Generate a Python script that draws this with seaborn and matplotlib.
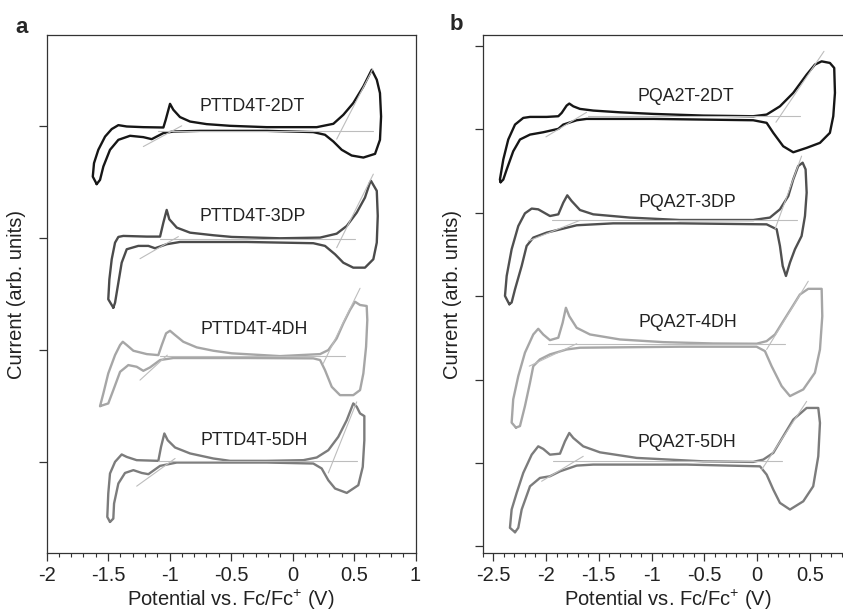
import numpy as np
import matplotlib
matplotlib.use("Agg")
import matplotlib.pyplot as plt
import seaborn as sns
from matplotlib.ticker import MultipleLocator

# ---- data: (potential V, current arb.) per sweep ----
a1 = [(-1.592,-0.52),(-1.624,-0.453),(-1.614,-0.333),(-1.579,-0.214),(-1.524,-0.096),(-1.470,-0.029),
      (-1.416,0.006),(-1.348,-0.006),(-1.213,-0.012),(-1.050,-0.015),(-1.031,0.054),(-0.996,0.196),
      (-0.969,0.143),(-0.915,0.078),(-0.833,0.038),(-0.698,0.015),(-0.508,0.0),(-0.210,-0.012),
      (0.197,-0.012),(0.332,0.018),(0.413,0.098),(0.494,0.203),(0.576,0.351),(0.644,0.5),
      (0.685,0.411),(0.711,0.292),(0.720,0.083),(0.711,-0.125),(0.671,-0.25),(0.576,-0.283),
      (0.481,-0.265),(0.400,-0.214),(0.332,-0.140),(0.264,-0.080),(0.169,-0.056),(-0.210,-0.045),
      (-0.752,-0.045),(-0.969,-0.051),(-1.050,-0.065),(-1.145,-0.119),(-1.213,-0.101),(-1.321,-0.089),
      (-1.416,-0.125),(-1.484,-0.214),(-1.538,-0.363),(-1.565,-0.482)]
a2 = [(-1.457,-0.622),(-1.498,-0.547),(-1.489,-0.369),(-1.470,-0.190),(-1.443,-0.042),(-1.416,0.009),
      (-1.376,0.018),(-1.185,0.012),(-1.077,0.012),(-1.050,0.137),(-1.023,0.25),(-1.002,0.167),
      (-0.941,0.092),(-0.833,0.047),(-0.644,0.024),(-0.494,0.009),(-0.102,-0.003),(0.224,0.003),
      (0.359,0.038),(0.441,0.107),(0.522,0.226),(0.589,0.360),(0.630,0.494),(0.638,0.509),
      (0.685,0.420),(0.693,0.196),(0.685,-0.042),(0.657,-0.190),(0.589,-0.265),(0.494,-0.265),
      (0.413,-0.221),(0.346,-0.146),(0.264,-0.071),(0.169,-0.047),(-0.372,-0.036),(-0.915,-0.036),
      (-1.023,-0.056),(-1.118,-0.092),(-1.172,-0.071),(-1.254,-0.071),(-1.348,-0.101),(-1.389,-0.221),
      (-1.416,-0.399),(-1.443,-0.578)]
a3 = [(-1.565,-0.5),(-1.538,-0.387),(-1.498,-0.208),(-1.443,-0.045),(-1.402,0.045),(-1.380,0.074),
      (-1.348,0.045),(-1.294,-0.006),(-1.185,-0.036),(-1.091,-0.045),(-1.063,0.045),(-1.028,0.149),
      (-0.996,0.172),(-0.955,0.134),(-0.888,0.074),(-0.779,0.024),(-0.644,-0.006),(-0.494,-0.029),
      (-0.102,-0.054),(0.224,-0.036),(0.291,0.0),(0.359,0.104),(0.413,0.238),(0.467,0.357),
      (0.508,0.431),(0.549,0.402),(0.603,0.393),(0.608,0.268),(0.598,0.029),(0.576,-0.208),
      (0.549,-0.357),(0.494,-0.402),(0.386,-0.402),(0.319,-0.328),(0.264,-0.179),(0.224,-0.089),
      (0.169,-0.074),(-0.372,-0.071),(-0.969,-0.071),(-1.077,-0.089),(-1.159,-0.155),(-1.213,-0.185),
      (-1.267,-0.149),(-1.335,-0.134),(-1.402,-0.194),(-1.457,-0.357),(-1.498,-0.476)]
a4 = [(-1.484,-0.533),(-1.506,-0.488),(-1.498,-0.279),(-1.484,-0.101),(-1.443,0.003),(-1.389,0.069),
      (-1.348,0.047),(-1.267,0.018),(-1.091,0.012),(-1.069,0.137),(-1.042,0.256),(-1.015,0.196),
      (-0.955,0.131),(-0.833,0.078),(-0.644,0.033),(-0.508,0.012),(-0.210,0.012),(0.088,0.018),
      (0.197,0.042),(0.291,0.107),(0.372,0.226),(0.441,0.375),(0.494,0.524),(0.522,0.494),
      (0.549,0.435),(0.584,0.411),(0.584,0.196),(0.571,-0.042),(0.535,-0.205),(0.441,-0.274),
      (0.346,-0.235),(0.291,-0.161),(0.237,-0.056),(0.169,-0.012),(-0.210,-0.003),(-0.941,-0.003),
      (-1.077,-0.033),(-1.172,-0.107),(-1.226,-0.096),(-1.294,-0.071),(-1.362,-0.096),(-1.416,-0.190),
      (-1.451,-0.369),(-1.457,-0.503)]

b1 = [(-2.430,-0.775),(-2.437,-0.743),(-2.405,-0.503),(-2.358,-0.263),(-2.294,-0.084),(-2.216,-0.004),
      (-2.152,0.008),(-1.994,0.008),(-1.884,0.016),(-1.852,0.056),(-1.805,0.144),(-1.780,0.168),
      (-1.742,0.135),(-1.679,0.104),(-1.553,0.084),(-1.300,0.063),(-0.985,0.044),(-0.511,0.024),
      (-0.038,0.016),(0.089,0.036),(0.215,0.135),(0.341,0.296),(0.468,0.515),(0.546,0.635),
      (0.610,0.674),(0.688,0.655),(0.729,0.595),(0.736,0.296),(0.720,0.016),(0.688,-0.183),
      (0.594,-0.303),(0.468,-0.363),(0.341,-0.416),(0.246,-0.344),(0.152,-0.183),(0.089,-0.063),
      (-0.038,-0.032),(-0.985,-0.016),(-1.616,-0.016),(-1.710,-0.032),(-1.837,-0.084),(-1.884,-0.135),
      (-2.027,-0.176),(-2.152,-0.204),(-2.247,-0.263),(-2.311,-0.404),(-2.373,-0.623),(-2.405,-0.743)]
b2 = [(-2.348,-0.998),(-2.389,-0.898),(-2.373,-0.659),(-2.326,-0.339),(-2.263,-0.060),(-2.200,0.092),
      (-2.136,0.149),(-2.074,0.140),(-1.963,0.060),(-1.884,0.080),(-1.837,0.220),(-1.799,0.308),
      (-1.758,0.240),(-1.679,0.132),(-1.553,0.080),(-1.205,0.041),(-0.732,0.012),(-0.038,0.012),
      (0.120,0.041),(0.215,0.140),(0.294,0.299),(0.341,0.499),(0.388,0.659),(0.430,0.699),
      (0.458,0.619),(0.468,0.340),(0.452,0.060),(0.420,-0.180),(0.357,-0.339),(0.310,-0.498),
      (0.272,-0.659),(0.241,-0.539),(0.215,-0.299),(0.184,-0.099),(0.089,-0.040),(-0.732,-0.028),
      (-1.364,-0.028),(-1.710,-0.051),(-1.837,-0.091),(-1.994,-0.139),(-2.121,-0.199),(-2.184,-0.299),
      (-2.231,-0.539),(-2.294,-0.818),(-2.326,-0.977)]
b3 = [(-2.285,-0.977),(-2.326,-0.917),(-2.311,-0.638),(-2.263,-0.359),(-2.200,-0.079),(-2.121,0.140),
      (-2.074,0.208),(-2.027,0.140),(-1.963,0.072),(-1.884,0.101),(-1.843,0.280),(-1.812,0.460),
      (-1.780,0.359),(-1.710,0.220),(-1.584,0.140),(-1.300,0.080),(-0.890,0.048),(-0.417,0.032),
      (-0.006,0.029),(0.089,0.060),(0.168,0.140),(0.246,0.299),(0.326,0.460),(0.404,0.619),
      (0.483,0.687),(0.610,0.687),(0.616,0.359),(0.594,-0.040),(0.546,-0.319),(0.436,-0.519),
      (0.310,-0.599),(0.231,-0.479),(0.136,-0.240),(0.073,-0.060),(-0.006,-0.007),(-0.732,-0.007),
      (-1.679,-0.019),(-1.805,-0.040),(-1.963,-0.099),(-2.058,-0.159),(-2.121,-0.240),(-2.152,-0.438),
      (-2.200,-0.719),(-2.247,-0.958)]
b4 = [(-2.294,-0.831),(-2.342,-0.778),(-2.326,-0.559),(-2.278,-0.359),(-2.216,-0.120),(-2.136,0.099),
      (-2.074,0.199),(-2.027,0.168),(-1.963,0.099),(-1.868,0.111),(-1.821,0.259),(-1.780,0.359),
      (-1.742,0.299),(-1.648,0.199),(-1.490,0.127),(-1.142,0.060),(-0.511,0.019),(-0.038,0.012),
      (0.057,0.040),(0.152,0.120),(0.246,0.319),(0.341,0.519),(0.468,0.659),(0.578,0.659),
      (0.594,0.479),(0.578,0.079),(0.530,-0.280),(0.436,-0.460),(0.310,-0.559),(0.215,-0.479),
      (0.152,-0.320),(0.089,-0.140),(0.026,-0.041),(-0.669,-0.020),(-1.553,-0.020),(-1.710,-0.032),
      (-1.868,-0.101),(-1.963,-0.160),(-2.058,-0.180),(-2.152,-0.280),(-2.231,-0.559),(-2.263,-0.778)]

# onset tangents (two end points each)
a1_tan = [[(-1.213,-0.185),(-0.901,0.0)], [(-1.091,-0.042),(0.652,-0.042)], [(0.359,-0.119),(0.652,0.506)]]
a2_tan = [[(-1.240,-0.185),(-0.928,0.012)], [(-1.077,-0.006),(0.508,-0.006)], [(0.359,-0.087),(0.657,0.569)]]
a3_tan = [[(-1.240,-0.268),(-1.018,-0.045)], [(-1.077,-0.054),(0.427,-0.054)], [(0.250,-0.119),(0.549,0.551)]]
a4_tan = [[(-1.267,-0.214),(-0.955,0.033)], [(-1.091,0.01),(0.522,0.01)], [(0.291,-0.096),(0.522,0.538)]]
b1_tan = [[(-2.001,-0.231),(-1.616,0.063)], [(-1.60,0.02),(0.402,0.02)], [(0.177,-0.056),(0.632,0.794)]]
b2_tan = [[(-2.169,-0.240),(-1.679,0.008)], [(-1.947,0.008),(0.373,0.008)], [(0.168,-0.099),(0.420,0.778)]]
b3_tan = [[(-2.159,-0.240),(-1.710,0.029)], [(-1.979,0.02),(0.262,0.02)], [(0.089,-0.040),(0.483,0.778)]]
b4_tan = [[(-2.042,-0.220),(-1.648,0.079)], [(-1.932,0.02),(0.231,0.02)], [(0.042,-0.080),(0.468,0.738)]]

a_names = ["PTTD4T-2DT", "PTTD4T-3DP", "PTTD4T-4DH", "PTTD4T-5DH"]
b_names = ["PQA2T-2DT", "PQA2T-3DP", "PQA2T-4DH", "PQA2T-5DH"]
a_offsets = [3, 2, 1, 0]
b_offsets = [5.14, 3.90, 2.40, 1.00]
a_label_pos = [(-0.33, 3.17), (-0.32, 2.19), (-0.31, 1.18), (-0.31, 0.19)]
b_label_pos = [(-0.68, 5.39), (-0.66, 4.12), (-0.66, 2.68), (-0.67, 1.24)]
a_colors = ["#161616", "#4b4b4b", "#a6a6a6", "#7c7c7c"]
b_colors = ["#161616", "#505050", "#a6a6a6", "#7c7c7c"]

sns.set_theme(style="ticks")
plt.rcParams['font.family'] = ['Liberation Sans', 'DejaVu Sans']
plt.rcParams['axes.unicode_minus'] = False
plt.rcParams['mathtext.fontset'] = 'custom'
plt.rcParams['mathtext.rm'] = 'Liberation Sans'

fig = plt.figure(figsize=(8.43, 6.15), dpi=100)
ax_a = fig.add_axes([0.0552, 0.1008, 0.4377, 0.8423])
ax_b = fig.add_axes([0.5726, 0.1008, 0.4384, 0.8423])


def draw_panel(ax, curves, tans, offsets, colors, names, label_pos):
    for pts, tan, off, col, name, lp in zip(curves, tans, offsets, colors, names, label_pos):
        v, i = np.array(pts).T
        v = np.append(v, v[0])
        i = np.append(i, i[0])
        sns.lineplot(x=v, y=i + off, sort=False, estimator=None, color=col,
                     linewidth=1.7, ax=ax, zorder=2,
                     solid_joinstyle="round", solid_capstyle="round")
        for seg in tan:
            tv, ti = np.array(seg).T
            sns.lineplot(x=tv, y=ti + off, sort=False, estimator=None,
                         color="#bdbdbd", linewidth=0.8, ax=ax, zorder=3)
        ax.text(lp[0], lp[1], name, ha="center", va="center", fontsize=12.8, color="#222222")


draw_panel(ax_a, [a1, a2, a3, a4], [a1_tan, a2_tan, a3_tan, a4_tan],
           a_offsets, a_colors, a_names, a_label_pos)
draw_panel(ax_b, [b1, b2, b3, b4], [b1_tan, b2_tan, b3_tan, b4_tan],
           b_offsets, b_colors, b_names, b_label_pos)

ax_a.set_xlim(-2, 1)
ax_a.set_ylim(-0.81, 3.81)
ax_a.set_xticks([-2, -1.5, -1, -0.5, 0, 0.5, 1])
ax_a.set_xticklabels(["-2", "-1.5", "-1", "-0.5", "0", "0.5", "1"])
ax_a.set_yticks([0, 1, 2, 3])

ax_b.set_xlim(-2.6, 0.9)
ax_b.set_ylim(-0.08, 6.13)
ax_b.set_xticks([-2.5, -2, -1.5, -1, -0.5, 0, 0.5])
ax_b.set_xticklabels(["-2.5", "-2", "-1.5", "-1", "-0.5", "0", "0.5"])
ax_b.set_yticks([0, 1, 2, 3, 4, 5, 6])

for ax in [ax_a, ax_b]:
    ax.xaxis.set_minor_locator(MultipleLocator(0.1))
    ax.set_yticklabels([])
    ax.tick_params(axis="both", which="major", direction="out", length=6, width=0.9,
                   color="#333333", labelsize=14.5, labelcolor="#222222", pad=3)
    ax.tick_params(axis="x", which="minor", direction="out", length=3, width=0.8, color="#333333")
    for s in ax.spines.values():
        s.set_visible(True)
        s.set_linewidth(0.9)
        s.set_color("#333333")
    ax.set_xlabel("Potential vs. Fc/Fc$^{+}$ (V)", fontsize=14.5, color="#222222", labelpad=2.5)
    ax.set_ylabel("Current (arb. units)", fontsize=14.5, color="#222222", labelpad=6)

fig.text(0.026, 0.956, "a", fontsize=16, fontweight="bold", ha="center", va="center")
fig.text(0.541, 0.96, "b", fontsize=16, fontweight="bold", ha="center", va="center")

fig.savefig("out.png", dpi=100)
